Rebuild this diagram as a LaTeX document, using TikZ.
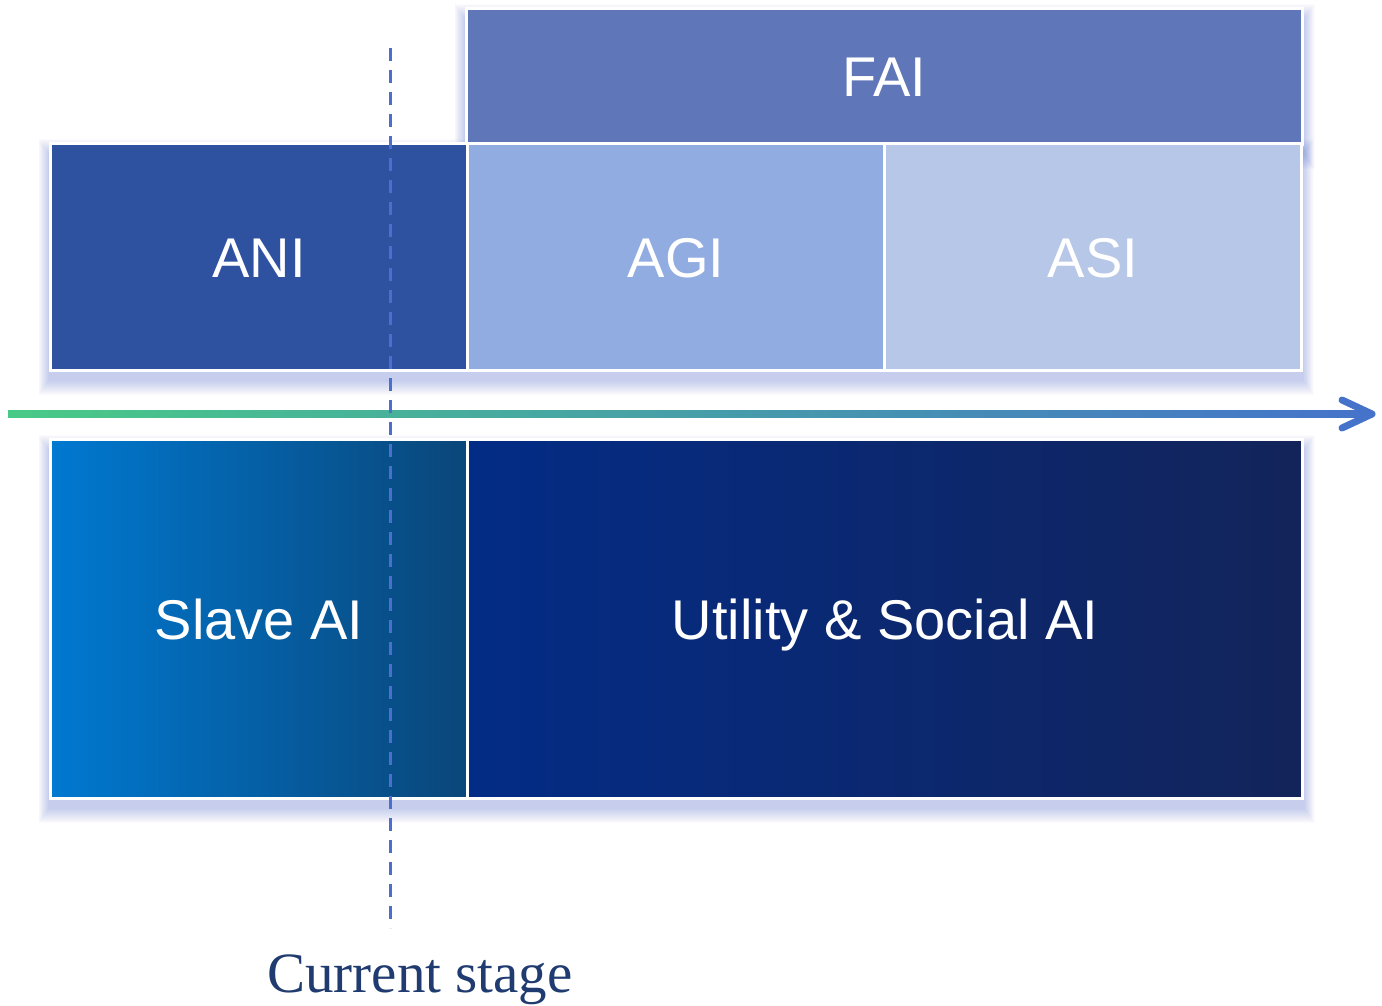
\documentclass[tikz,border=0pt]{standalone}
\usepackage{fontspec}
\setmainfont{Liberation Sans}
\newfontfamily\stagefont{Liberation Serif}
\usepackage{xcolor}
\usetikzlibrary{backgrounds}
\usetikzlibrary{calc}
\definecolor{faicol}{HTML}{5F76B8}
\definecolor{anicol}{HTML}{2E51A0}
\definecolor{agicol}{HTML}{91ACE1}
\definecolor{asicol}{HTML}{B7C7E8}
\definecolor{slaveL}{HTML}{0079D1}
\definecolor{slaveR}{HTML}{0A4679}
\definecolor{utilL}{HTML}{032C86}
\definecolor{utilR}{HTML}{13245A}
\definecolor{lineG}{HTML}{48CA87}
\definecolor{lineB}{HTML}{4573CA}
\definecolor{stageblue}{HTML}{4A6FCC}
\definecolor{stagetext}{HTML}{1F3B70}
\definecolor{shadowcol}{HTML}{5570D0}
\tikzstyle{stagebox}=[draw=white, line width=3, inner sep=0, anchor=north west, text=white, text height=40pt, text depth=0pt, font=\fontsize{56}{60}\selectfont]
\newcommand{\boxshadow}[2]{
\foreach \e in {1,...,15} {
	\fill[shadowcol, opacity=0.022] ($(#1.north west)+(-0.7*\e,12-\e)$) rectangle ($(#2.south east)+(0.7*\e,8+\e)$);
}
}

\begin{document}
\begin{tikzpicture}[x=1pt,y=-1pt]
\useasboundingbox (0,0) rectangle (1382,1005);
% kinds of AI
\node[stagebox, fill=faicol, minimum width=836, minimum height=136] (fai) at (465,7) {FAI};
\node[stagebox, fill=anicol, minimum width=417, minimum height=227] (ani) at (49,142) {ANI};
\node[stagebox, fill=agicol, minimum width=417, minimum height=227] (agi) at (466,142) {AGI};
\node[stagebox, fill=asicol, minimum width=417, minimum height=227] (asi) at (883,142) {ASI};
% roles of AI
\node[stagebox, left color=slaveL, right color=slaveR, minimum width=417, minimum height=359] (slave) at (49,438) {Slave AI};
\node[stagebox, left color=utilL, right color=utilR, minimum width=835, minimum height=359] (util) at (466,438) {Utility \& Social AI};
\begin{pgfonlayer}{background}
\fill[white] (0,0) rectangle (1382,1005);
\boxshadow{fai}{fai}
\boxshadow{ani}{asi}
\boxshadow{slave}{util}
\end{pgfonlayer}
% time line
\coordinate (tl start) at (8,414);
\coordinate (tl end) at (1372,414);
\shade[left color=lineG, right color=lineB] ($(tl start)+(0,-3.5)$) rectangle ($(tl end)+(-4,3.5)$);
\draw[lineB, line width=7, line cap=round, line join=round] ($(tl end)+(-30,-14)$) -- (tl end) -- ($(tl end)+(-30,14)$);
% current stage
\coordinate (cs top) at (390,48);
\coordinate (cs bot) at (390,928);
\draw[stageblue, line width=3, dash pattern=on 13pt off 9pt] (cs top) -- (cs bot);
\node[anchor=base, text=stagetext, font=\stagefont\fontsize{57}{60}\selectfont, inner sep=0] (cs label) at (420,992) {Current stage};
\end{tikzpicture}
\end{document}
